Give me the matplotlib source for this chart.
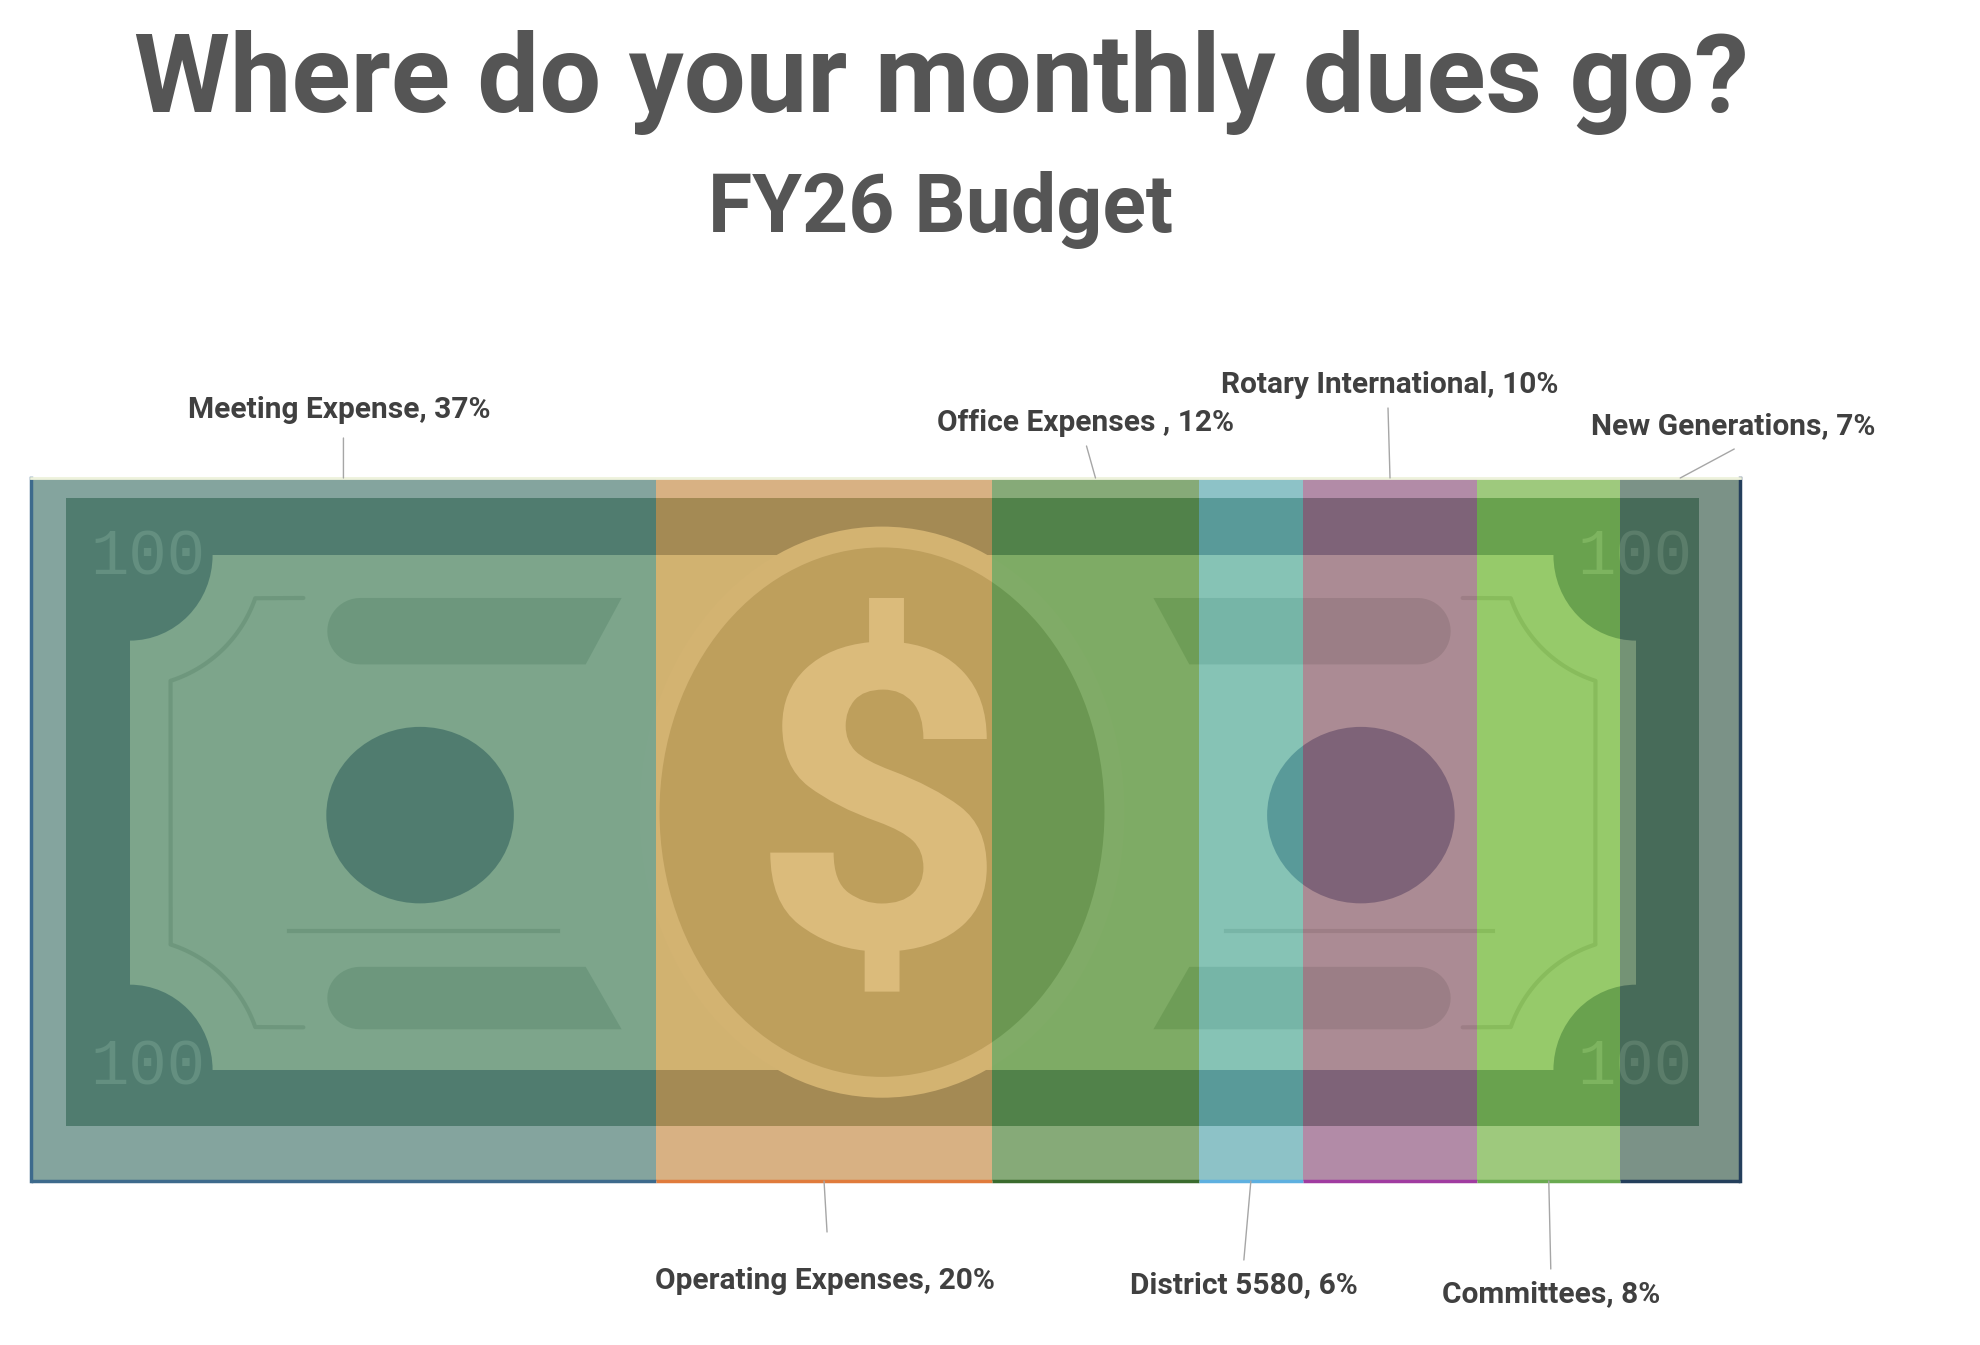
import matplotlib
matplotlib.use("Agg")
import matplotlib.pyplot as plt
import numpy as np
from matplotlib.patches import Rectangle, Ellipse, Polygon, PathPatch
from matplotlib.textpath import TextPath
from matplotlib.font_manager import FontProperties
from matplotlib.transforms import Affine2D

# data
categories = ["Meeting Expense", "Operating Expenses", "Office Expenses ", "District 5580",
              "Rotary International", "Committees", "New Generations"]
shares = [36.6, 19.7, 12.1, 6.1, 10.2, 8.4, 7.0]

fill_colors = ["#6B878C", "#F89D5F", "#6E914D", "#7BB9D2", "#B95D9B", "#96C555", "#5C6967"]
edge_colors = ["#3D6A8C", "#E07B3C", "#3A6B2E", "#5EB0E0", "#A03CA0", "#6AAA50", "#243F5C"]

# label layout: side, text offset (px), leader line end offset (px)
label_side = ["top", "bottom", "top", "bottom", "top", "bottom", "top"]
text_off = [(-4, 60), (1, -108), (-10, 47), (-7, -112), (0, 85), (2, -121), (53, 44)]
line_off = [(0, 40), (3, -51), (-9, 32), (-7, -79), (-2, 70), (2, -88), (54, 29)]

plt.rcParams["font.family"] = ["Roboto", "DejaVu Sans"]

FW, FH = 1980, 1345
fig = plt.figure(figsize=(FW / 100, FH / 100), dpi=100)
fig.patch.set_facecolor("white")

# bar area in pixels
x0, x1, y0, y1 = 31, 1740, 478, 1181
rect = [x0 / FW, 1 - y1 / FH, (x1 - x0) / FW, (y1 - y0) / FH]

# ---- banknote picture behind the bar (drawn in its own 1713 x 709 units) ----
W, H = 1713, 709
bill = fig.add_axes(rect)
bill.set_xlim(0, W)
bill.set_ylim(H, 0)
bill.axis("off")

c_margin = "#AAD0B9"
c_band = "#286E46"
c_panel = "#98D28A"
c_coin = "#68A25A"
c_ring = "#9CD48E"
c_pill = "#70B167"
c_dollar = "#B0E8A7"
c_frame = "#74B068"

bill.add_patch(Rectangle((0, 0), W, H, color=c_margin, lw=0))
band = Rectangle((35, 20), 1637, 634, color=c_band, lw=0)
bill.add_patch(band)
bill.add_patch(Rectangle((99, 78), 1510, 519, color=c_panel, lw=0))

for cx, cy in [(99, 78), (1609, 78), (99, 597), (1609, 597)]:
    e = Ellipse((cx, cy), 166, 172, color=c_band, lw=0)
    bill.add_patch(e)
    e.set_clip_path(band)

# scalloped frame lines
t = np.linspace(np.arctan2(43, 125), np.arctan2(127, 41), 30)
arc_top = np.column_stack([99 + 133 * np.cos(t), 78 + 133 * np.sin(t)])
left_frame = np.vstack([[[273, 121]], arc_top, [[140, 470]],
                        np.column_stack([arc_top[::-1, 0], 675 - arc_top[::-1, 1]]),
                        [[273, 554]]])
for pts in [left_frame, np.column_stack([1708 - left_frame[:, 0], left_frame[:, 1]])]:
    bill.plot(pts[:, 0], pts[:, 1], color=c_frame, lw=3, solid_capstyle="round")


def pill(xa, xb, ya, yb, round_left, slant_top_out):
    r = 33
    yc, ry = (ya + yb) / 2, (yb - ya) / 2
    a = np.linspace(np.pi / 2, 3 * np.pi / 2, 25)
    if round_left:
        arc = np.column_stack([xa + r + r * np.cos(a), yc - ry * np.sin(a)])
        sl = [[xb - 36, yb], [xb, ya]] if slant_top_out else [[xb, yb], [xb - 36, ya]]
        return np.vstack([[[xa + r, ya]], arc, sl])
    arc = np.column_stack([xb - r - r * np.cos(a), yc - ry * np.sin(a)])
    sl = [[xa + 36, yb], [xa, ya]] if slant_top_out else [[xa, yb], [xa + 36, ya]]
    return np.vstack([[[xb - r, ya]], arc, sl])


for pts in [pill(297, 592, 121, 188, True, True), pill(297, 592, 493, 556, True, False),
            pill(1125, 1423, 121, 188, False, True), pill(1125, 1423, 493, 556, False, False)]:
    bill.add_patch(Polygon(pts, closed=True, color=c_pill, lw=0))

bill.plot([259, 528], [457, 457], color=c_frame, lw=3)
bill.plot([1198, 1465], [457, 457], color=c_frame, lw=3)

bill.add_patch(Ellipse((390, 340), 188, 178, color=c_band, lw=0))
bill.add_patch(Ellipse((1333, 340), 188, 178, color=c_band, lw=0))

bill.add_patch(Ellipse((853, 337), 486, 576, color=c_ring, lw=0))
bill.add_patch(Ellipse((853, 337), 446, 534, color=c_coin, lw=0))

tp = TextPath((0, 0), "$", size=1, prop=FontProperties(family="Roboto", weight="bold"))
ext = tp.get_extents()
dw, dh = 217, 397
tr = Affine2D().translate(-ext.x0, -ext.y0).scale(dw / ext.width, -dh / ext.height) \
    .translate(741, 121 + dh)
bill.add_patch(PathPatch(tr.transform_path(tp), color=c_dollar, lw=0))

for tx, ty in [(117, 80), (1608, 80), (117, 595), (1608, 595)]:
    bill.text(tx, ty, "100", family="Liberation Mono", fontsize=46, color="#5A9C70",
              ha="center", va="center")

# ---- stacked bar ----
ax = fig.add_axes(rect)
ax.patch.set_alpha(0)
total = sum(shares)
lefts = np.cumsum([0] + shares[:-1])
ax.barh(0, shares, left=lefts, height=1, color=fill_colors, alpha=0.6, lw=0)
ax.set_xlim(0, total)
ax.set_ylim(-0.5, 0.5)
ax.axis("off")

for l, w, ec in zip(lefts, shares, edge_colors):
    ax.plot([l, l + w], [-0.5, -0.5], color=ec, lw=2.5, solid_capstyle="butt", clip_on=False)
ax.plot([0, 0], [-0.5, 0.5], color=edge_colors[0], lw=2.5, clip_on=False)
ax.plot([total, total], [-0.5, 0.5], color=edge_colors[-1], lw=2.5, clip_on=False)
ax.plot([0, total], [0.5, 0.5], color="#EEF2DC", lw=2, clip_on=False)

for name, v, l, side, to, lo in zip(categories, shares, lefts, label_side, text_off, line_off):
    xc = l + v / 2
    yy = 0.5 if side == "top" else -0.5
    ax.annotate("", xy=(xc, yy), xytext=lo, textcoords="offset pixels",
                arrowprops=dict(arrowstyle="-", color="#A6A6A6", lw=1, shrinkA=0, shrinkB=0),
                annotation_clip=False)
    ax.annotate(f"{name}, {round(v)}%", xy=(xc, yy), xytext=to, textcoords="offset pixels",
                ha="center", va="baseline", fontsize=21.5, fontweight="bold", color="#404040",
                annotation_clip=False)

fig.text(941 / FW, 1 - 112 / FH, "Where do your monthly dues go?", ha="center", va="baseline",
         fontsize=79, fontweight="bold", color="#555555")
fig.text(941 / FW, 1 - 232 / FH, "FY26 Budget", ha="center", va="baseline",
         fontsize=58, fontweight="bold", color="#555555")

fig.savefig("out.png", dpi=100, facecolor="white")
